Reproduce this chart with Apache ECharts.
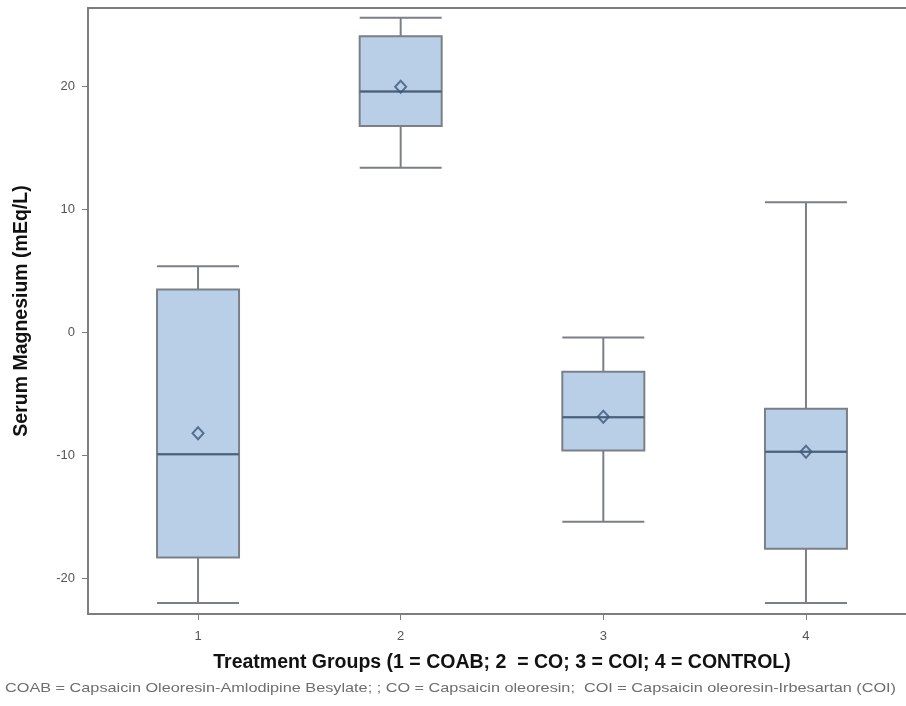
<!DOCTYPE html>
<html>
<head>
<meta charset="utf-8">
<script src="https://cdn.jsdelivr.net/npm/echarts@6/dist/echarts.min.js"></script>
<style>
  html, body { margin: 0; padding: 0; background: #fff; }
  #chart { width: 906px; height: 706px; }
</style>
</head>
<body>
<div id="chart"></div>
<script>
// Treatment groups on the x axis
const groups = [1, 2, 3, 4];
// Five-number summaries per group: [min, Q1, median, Q3, max]
const whiskerLow = [-22.0, 13.4, -15.4, -22.0];
const q1 = [-18.3, 16.8, -9.6, -17.6];
const medians = [-9.9, 19.6, -6.9, -9.7];
const q3 = [3.5, 24.1, -3.2, -6.2];
const whiskerHigh = [5.4, 25.6, -0.4, 10.6];
// Group means (diamond markers)
const means = [-8.2, 20.0, -6.85, -9.7];
// Tick labels of the value axis
const yTicks = [-20, -10, 0, 10, 20];

const FONT = 'Liberation Sans, Arial, sans-serif';
const AXIS_GREY = '#7d7d7d';
const X_MIN = 0.457, X_MAX = 4.543;

const boxData = groups.map((g, i) => [g, whiskerLow[i], q1[i], medians[i], q3[i], whiskerHigh[i]]);
const medianData = groups.map((g, i) => [g, medians[i], medians[i], medians[i], medians[i], medians[i]]);
const meanData = groups.map((g, i) => [g, means[i]]);

const chart = echarts.init(document.getElementById('chart'), null, { renderer: 'canvas' });
chart.setOption({
  backgroundColor: '#ffffff',
  animation: false,
  grid: {
    left: 88, width: 828, top: 8, height: 606,
    outerBoundsMode: 'none',
    containLabel: false,
    show: true, borderColor: AXIS_GREY, borderWidth: 2
  },
  xAxis: [
    {
      type: 'value',
      min: X_MIN,
      max: X_MAX,
      name: 'Treatment Groups (1 = COAB; 2  = CO; 3 = COI; 4 = CONTROL)',
      nameLocation: 'middle',
      nameGap: 39,
      nameTextStyle: { fontFamily: FONT, fontSize: 19.5, fontWeight: 'bold', color: '#111' },
      axisLine: { show: true, onZero: false, lineStyle: { color: AXIS_GREY, width: 2 } },
      axisTick: { show: true, length: 6, lineStyle: { color: AXIS_GREY }, customValues: groups },
      axisLabel: { fontFamily: FONT, fontSize: 13, color: '#555', margin: 16, customValues: groups },
      splitLine: { show: false }
    },
    {
      // hidden twin axis so the median bars sit exactly on the boxes
      type: 'value',
      min: X_MIN,
      max: X_MAX,
      show: false,
      position: 'bottom'
    }
  ],
  yAxis: {
    type: 'value',
    min: -22.9,
    max: 26.4,
    name: 'Serum Magnesium (mEq/L)',
    nameLocation: 'middle',
    nameGap: 56,
    nameTextStyle: { fontFamily: FONT, fontSize: 19.5, fontWeight: 'bold', color: '#111' },
    axisLine: { show: true, lineStyle: { color: AXIS_GREY, width: 2 } },
    axisTick: { show: true, length: 6, lineStyle: { color: AXIS_GREY }, customValues: yTicks },
    axisLabel: { fontFamily: FONT, fontSize: 13, color: '#555', margin: 13, customValues: yTicks },
    splitLine: { show: false }
  },
  series: [
    {
      type: 'boxplot',
      layout: 'horizontal',
      xAxisIndex: 0,
      data: boxData,
      boxWidth: [82, 82],
      itemStyle: { color: '#b9cfe8', borderColor: '#7b8088', borderWidth: 2 },
      emphasis: { disabled: true },
      z: 2
    },
    {
      // median bars drawn over the boxes in a darker tone
      type: 'boxplot',
      layout: 'horizontal',
      xAxisIndex: 1,
      data: medianData,
      boxWidth: [82, 82],
      itemStyle: { color: 'rgba(0,0,0,0)', borderColor: '#48617f', borderWidth: 2 },
      emphasis: { disabled: true },
      z: 3
    },
    {
      type: 'scatter',
      xAxisIndex: 0,
      data: meanData,
      symbol: 'diamond',
      symbolSize: [11, 12],
      itemStyle: { color: 'rgba(0,0,0,0)', borderColor: '#3f5878', borderWidth: 2 },
      emphasis: { disabled: true },
      z: 4
    }
  ],
  graphic: [
    {
      type: 'text',
      x: 5,
      y: 682,
      scaleX: 1.25,
      style: {
        text: 'COAB = Capsaicin Oleoresin-Amlodipine Besylate; ; CO = Capsaicin oleoresin;  COI = Capsaicin oleoresin-Irbesartan (COI)',
        fontFamily: FONT,
        fontSize: 13,
        fill: '#6e6e6e'
      }
    }
  ]
});
</script>
</body>
</html>
